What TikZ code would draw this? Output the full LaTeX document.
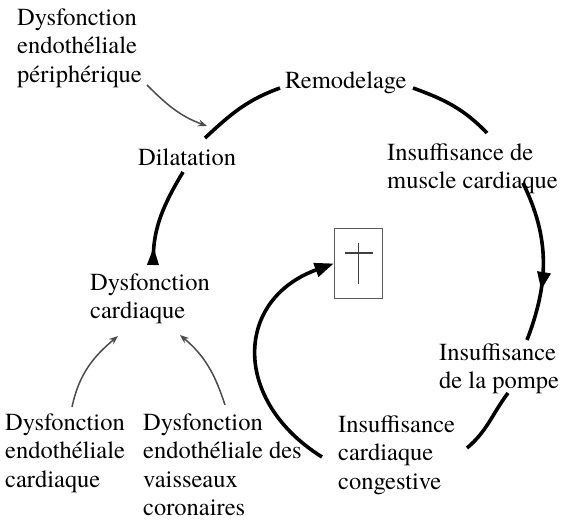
\documentclass[tikz,border=0pt]{standalone}
\usepackage{fontspec}
\setmainfont{TeX Gyre Termes}
\usetikzlibrary{arrows.meta,decorations.markings}
\begin{document}
\begin{tikzpicture}[x=1pt,y=1pt,
  lbl/.style={anchor=north west, align=left, inner sep=0pt,
    font=\rmfamily\fontsize{24.5pt}{28.5pt}\selectfont, text=black},
  cyc/.style={line width=3.6pt, black},
  thinarrow/.style={line width=1.5pt, black!70, -{Stealth[length=9pt,width=7pt]}},
  bigtip/.style={-{Triangle[length=19pt,width=14pt]}},
]
\useasboundingbox[fill=white] (0,0) rectangle (563,-527);

% labels
\node[lbl] (periph) at (17,-8.3) {Dysfonction\\endothéliale\\périphérique};
\node[lbl] (rem) at (285,-71.3) {Remodelage};
\node[lbl] (dil) at (138,-148.3) {Dilatation};
\node[lbl] (imc) at (387,-143.3) {Insuffisance de\\muscle cardiaque};
\node[lbl] (dc) at (90,-273.3) {Dysfonction\\cardiaque};
\node[lbl] (ip) at (439,-343.3) {Insuffisance\\de la pompe};
\node[lbl] (dec) at (5,-413.3) {Dysfonction\\endothéliale\\cardiaque};
\node[lbl] (dev) at (143,-413.3) {Dysfonction\\endothéliale des\\vaisseaux\\coronaires};
\node[lbl] (icc) at (338,-415.3) {Insuffisance\\cardiaque\\congestive};

% death box
\node[draw=black!65, line width=1.6pt, minimum width=48pt, minimum height=70pt, inner sep=0pt] (death) at (358.5,-263.5) {};
\draw[black!75, line width=1.8pt]
  ([yshift=21pt]death.center) -- ([yshift=-20pt]death.center)
  ([xshift=-13.5pt,yshift=10.5pt]death.center) -- ([xshift=14.5pt,yshift=10.5pt]death.center);

% cycle end points
\coordinate (c1) at (153,-265);
\coordinate (c2) at (183,-172);
\coordinate (c3) at (205,-138);
\coordinate (c4) at (280,-88);
\coordinate (c5) at (413,-88);
\coordinate (c6) at (487,-133);
\coordinate (c7) at (523,-183);
\coordinate (c8) at (527,-340);
\coordinate (c9) at (508,-393);
\coordinate (c10) at (467,-448);
\coordinate (c11) at (322,-457);

% cycle
\draw[cyc, {Triangle[reversed,length=18pt,width=11pt]}-] (c1) to[out=88,in=239] (c2);
\draw[cyc] (c3) to[out=43,in=200] (c4);
\draw[cyc] (c5) to[out=-20,in=134] (c6);
\draw[cyc, postaction={decorate},
  decoration={markings, mark=at position 0.68 with {\arrow{Triangle[length=18pt,width=13pt]}}}]
  (c7) to[out=-64,in=69] (c8);
\draw[cyc] (c9) to[out=-127,in=40] (c10);
\draw[cyc, bigtip] (c11) to[out=148,in=200,looseness=1.4] (death.west);

% thin arrows
\coordinate (p1) at (147,-85);
\coordinate (p2) at (207,-126);
\coordinate (q1) at (72,-407);
\coordinate (q2) at (118,-336);
\coordinate (r1) at (225,-405);
\coordinate (r2) at (180,-335);
\draw[thinarrow] (p1) to[out=-45,in=160] (p2);
\draw[thinarrow] (q1) to[out=78,in=220] (q2);
\draw[thinarrow] (r1) to[out=108,in=-40] (r2);
\end{tikzpicture}
\end{document}
